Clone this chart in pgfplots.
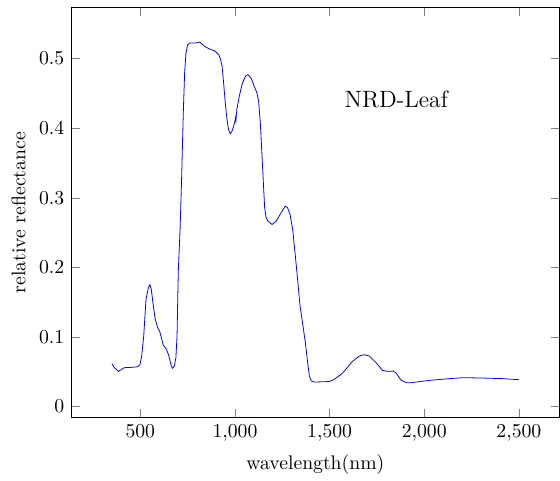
\documentclass[border=0pt]{standalone}
\usepackage{pgfplots}
\pgfplotsset{compat=1.18}
\begin{document}
\begin{tikzpicture}
\begin{axis}[
  scale only axis,
  width=248pt, height=208pt,
  xmin=135, xmax=2715,
  ymin=-0.016, ymax=0.573,
  xtick={500,1000,1500,2000,2500},
  ytick={0,0.1,0.2,0.3,0.4,0.5},
  xlabel={wavelength(nm)},
  ylabel={relative reflectance},
]
\addplot[blue, no markers] coordinates {
(350,0.0613) (363,0.0556) (384,0.0503) (400,0.053) (415,0.0556) (451,0.056) (486,0.057)
(498,0.060) (507,0.072) (518,0.101) (530,0.154) (542,0.170) (551,0.175) (558,0.168)
(569,0.144) (579,0.125) (592,0.113) (602,0.108) (611,0.099) (621,0.088) (636,0.083)
(648,0.075) (659,0.063) (669,0.0546) (680,0.058) (688,0.070) (694,0.101) (699,0.173)
(701,0.197) (710,0.254) (718,0.326) (727,0.422) (734,0.479) (741,0.508) (750,0.520)
(762,0.5225) (794,0.5225) (812,0.524) (824,0.5215) (838,0.518) (864,0.514) (891,0.5115)
(914,0.506) (924,0.4986) (932,0.489) (940,0.465) (949,0.436) (958,0.412) (966,0.398)
(975,0.392) (984,0.3956) (993,0.403) (1000,0.410) (1003,0.415) (1005,0.411) (1010,0.427)
(1023,0.446) (1037,0.4626) (1055,0.4746) (1069,0.477) (1085,0.472) (1102,0.460)
(1116,0.4507) (1125,0.4386) (1134,0.4076) (1143,0.3597) (1151,0.3165) (1157,0.285)
(1164,0.272) (1175,0.266) (1196,0.2615) (1217,0.266) (1243,0.278) (1266,0.288)
(1278,0.2855) (1291,0.276) (1305,0.254) (1319,0.216) (1331,0.1825) (1344,0.144)
(1357,0.120) (1372,0.0915) (1384,0.0628) (1393,0.0435) (1403,0.0364) (1419,0.0349)
(1481,0.0355) (1498,0.0358) (1525,0.0388) (1560,0.046) (1578,0.0507) (1600,0.058)
(1622,0.065) (1657,0.0723) (1683,0.0743) (1710,0.0723) (1745,0.0628) (1780,0.0517)
(1806,0.0503) (1836,0.0507) (1851,0.048) (1877,0.0378) (1904,0.034) (1930,0.034)
(2027,0.0373) (2132,0.0398) (2203,0.0412) (2308,0.0407) (2414,0.0398) (2500,0.0383)
};
\node[font=\large] at (axis cs:1852,0.441) {NRD-Leaf};
\end{axis}
\path ([yshift=4pt]current axis.north);
\path ([xshift=-2.5pt]current axis.outer west);
\end{tikzpicture}
\end{document}
